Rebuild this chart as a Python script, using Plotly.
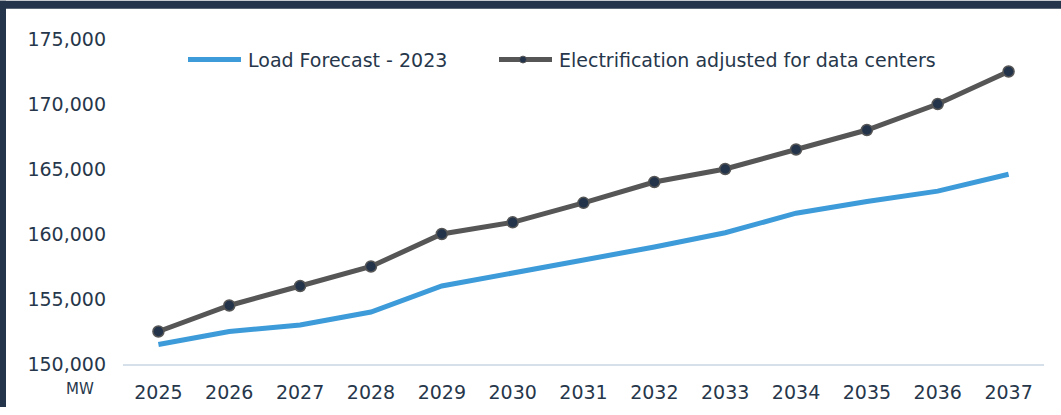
import plotly.graph_objects as go

years = ["2025", "2026", "2027", "2028", "2029", "2030", "2031",
         "2032", "2033", "2034", "2035", "2036", "2037"]
load_forecast_2023 = [151500, 152500, 153000, 154000, 156000, 157000, 158000,
                      159000, 160100, 161600, 162500, 163300, 164600]
electrification_dc = [152500, 154500, 156000, 157500, 160000, 160900, 162400,
                      164000, 165000, 166500, 168000, 170000, 172500]
series_names = ["Load Forecast - 2023", "Electrification adjusted for data centers"]
y_ticks = [150000, 155000, 160000, 165000, 170000, 175000]
unit_label = "MW"

W, H = 1061, 415
L, R, T, B = 123, 17, 39, 44
PW, PH = W - L - R, H - T - B

def xp(px):
    return (px - L) / PW

def yp(py):
    return (H - B - py) / PH

TEXT = "#27374b"
FONT = "DejaVu Sans"
BLUE = "#3d9bd9"
GREY = "#565656"
NAVY = "#22334a"
BAND = "#24344a"

fig = go.Figure()
fig.add_trace(go.Scatter(
    x=years, y=load_forecast_2023, mode="lines", name=series_names[0],
    line=dict(color=BLUE, width=5), showlegend=False,
))
fig.add_trace(go.Scatter(
    x=years, y=electrification_dc, mode="lines+markers", name=series_names[1],
    line=dict(color=GREY, width=5),
    marker=dict(size=11, color=NAVY, line=dict(color=GREY, width=1.5)),
    showlegend=False,
))

shapes = [
    # dark frame bands
    dict(type="rect", xref="paper", yref="paper", x0=xp(0), x1=xp(W), y0=yp(8), y1=yp(0),
         fillcolor=BAND, line=dict(width=0), layer="above"),
    dict(type="rect", xref="paper", yref="paper", x0=xp(0), x1=xp(6), y0=yp(H), y1=yp(0),
         fillcolor=BAND, line=dict(width=0), layer="above"),
    # legend samples
    dict(type="line", xref="paper", yref="paper", x0=xp(188), x1=xp(241), y0=yp(60), y1=yp(60),
         line=dict(color=BLUE, width=5)),
    dict(type="line", xref="paper", yref="paper", x0=xp(499), x1=xp(552), y0=yp(60), y1=yp(60),
         line=dict(color=GREY, width=5)),
    dict(type="circle", xref="paper", yref="paper", x0=xp(519.5), x1=xp(526.5), y0=yp(63.5), y1=yp(56.5),
         fillcolor=NAVY, line=dict(color=GREY, width=1)),
]

annotations = [
    dict(text=series_names[0], xref="paper", yref="paper", x=xp(246), y=yp(60),
         xanchor="left", yanchor="middle", showarrow=False, font=dict(size=19, color=TEXT, family=FONT)),
    dict(text=series_names[1], xref="paper", yref="paper", x=xp(557), y=yp(60),
         xanchor="left", yanchor="middle", showarrow=False, font=dict(size=19, color=TEXT, family=FONT)),
    dict(text=unit_label, xref="paper", yref="paper", x=xp(80), y=yp(397),
         xanchor="center", yanchor="middle", showarrow=False, font=dict(size=15, color=TEXT, family=FONT)),
]

fig.update_layout(
    width=W, height=H,
    margin=dict(l=L, r=R, t=T, b=B, pad=0),
    paper_bgcolor="white", plot_bgcolor="white",
    font=dict(family=FONT, size=19, color=TEXT),
    showlegend=False,
    shapes=shapes, annotations=annotations,
    xaxis=dict(type="category", range=[-0.5, 12.5], showgrid=False, zeroline=False,
               showline=True, linecolor="#d6e0ea", linewidth=2, ticks="",
               tickfont=dict(size=19, color=TEXT, family=FONT), ticklabelstandoff=10),
    yaxis=dict(range=[150000, 175000], tickvals=y_ticks, tickformat=",",
               showgrid=False, zeroline=False, showline=False, ticks="",
               tickfont=dict(size=19, color=TEXT, family=FONT), ticklabelstandoff=16),
)

fig.write_html("out.html", config={"displayModeBar": False},
               post_script="document.body.style.margin='0';")
